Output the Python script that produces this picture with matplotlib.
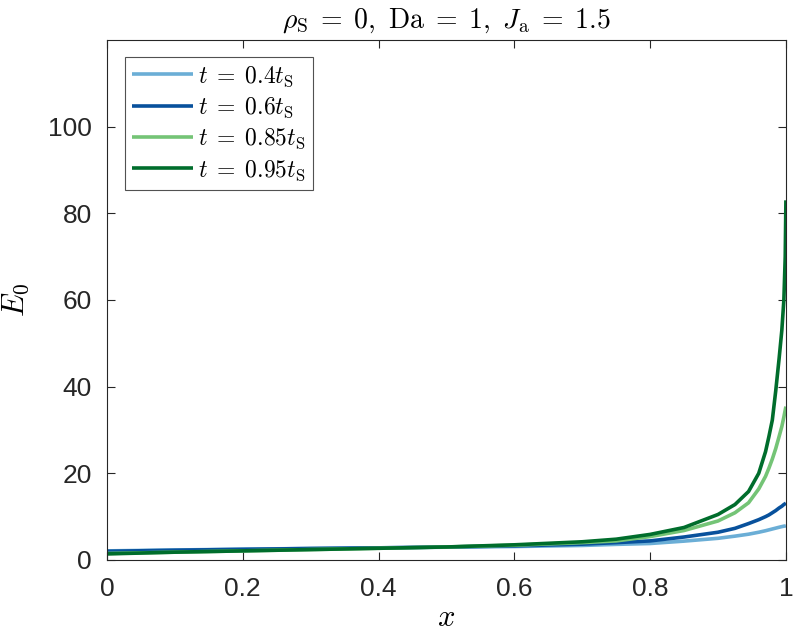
import matplotlib
matplotlib.use("Agg")
import matplotlib.pyplot as plt

# sample points along x (denser near the wall at x = 1)
x = [0.0, 0.1, 0.2, 0.3, 0.4, 0.5, 0.6, 0.7, 0.75, 0.8, 0.85, 0.9, 0.925, 0.945,
     0.96, 0.97, 0.975, 0.98, 0.985, 0.99, 0.994, 0.997, 0.999, 1.0]

# E0
e_04 = [2.1, 2.3, 2.5, 2.65, 2.8, 2.95, 3.1, 3.35, 3.6, 3.8, 4.35, 5.0, 5.5, 5.95,
        6.4, 6.75, 6.95, 7.15, 7.35, 7.55, 7.7, 7.8, 7.85, 7.9]
e_06 = [2.0, 2.25, 2.45, 2.65, 2.8, 3.0, 3.25, 3.65, 4.0, 4.4, 5.3, 6.4, 7.3, 8.4,
        9.3, 10.0, 10.4, 10.9, 11.4, 12.0, 12.4, 12.8, 13.0, 13.1]
e_085 = [1.5, 1.8, 2.1, 2.4, 2.7, 3.0, 3.4, 4.0, 4.4, 5.4, 6.8, 9.0, 10.9, 13.2,
         16.4, 19.3, 21.2, 23.3, 25.7, 28.5, 30.8, 33.0, 34.6, 35.4]
e_095 = [1.4, 1.8, 2.1, 2.4, 2.7, 3.0, 3.5, 4.2, 4.8, 5.9, 7.5, 10.5, 12.8, 15.8,
         20.0, 25.0, 28.5, 32.3, 39.0, 46.5, 53.0, 60.0, 70.0, 83.0]

labels = [r"$t\;=\;0.4t_\mathrm{S}$", r"$t\;=\;0.6t_\mathrm{S}$",
          r"$t\;=\;0.85t_\mathrm{S}$", r"$t\;=\;0.95t_\mathrm{S}$"]
colors = ["#6baed6", "#08519c", "#74c476", "#006d2c"]

plt.rcParams["font.family"] = ["Liberation Sans", "DejaVu Sans"]
plt.rcParams["mathtext.fontset"] = "cm"

fig = plt.figure(figsize=(7.94, 6.38), dpi=100)
ax = fig.add_axes([0.1348, 0.1223, 0.855, 0.815])

for ys, lab, c in zip([e_04, e_06, e_085, e_095], labels, colors):
    ax.plot(x, ys, color=c, lw=2.6, label=lab, solid_capstyle="butt")

ax.set_xlim(0, 1)
ax.set_ylim(0, 120)
ax.set_xticks([0, 0.2, 0.4, 0.6, 0.8, 1])
ax.set_xticklabels(["0", "0.2", "0.4", "0.6", "0.8", "1"])
ax.set_yticks([0, 20, 40, 60, 80, 100])

ax.tick_params(direction="in", top=True, right=True, labelsize=19,
               colors="#262626", length=6, width=0.8)
ax.tick_params(axis="x", pad=12)
ax.tick_params(axis="y", pad=11)
for s in ax.spines.values():
    s.set_color("#262626")
    s.set_linewidth(0.8)

ax.set_xlabel(r"$x$", fontsize=22, labelpad=2)
ax.set_ylabel(r"$E_0$", fontsize=22, labelpad=12)
ax.set_title(r"$\rho_\mathrm{S}\;=\;0,\ \mathrm{Da}\;=\;1,\ J_\mathrm{a}\;=\;1.5$",
             fontsize=20, pad=9)

leg = ax.legend(loc="upper left", fontsize=17, frameon=True, fancybox=False,
                edgecolor="#262626", handlelength=2.6, handletextpad=0.2,
                labelspacing=0.3, borderpad=0.3, borderaxespad=0,
                bbox_to_anchor=(0.0265, 0.967))
leg.get_frame().set_linewidth(0.8)

fig.savefig("out.png", dpi=100)
